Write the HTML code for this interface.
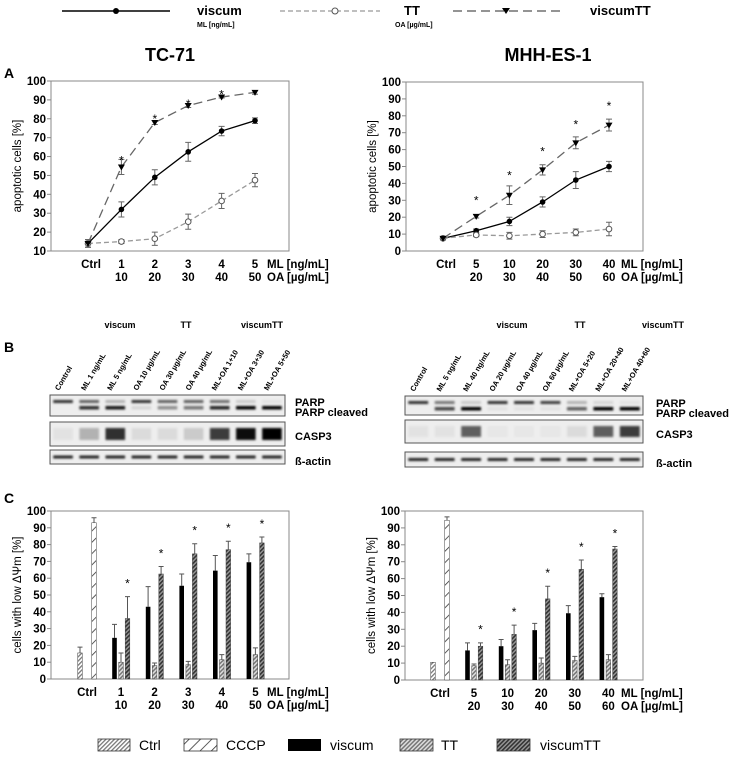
<!DOCTYPE html>
<html><head><meta charset="utf-8"><style>
body{margin:0;background:#fff;width:733px;height:759px;overflow:hidden}
svg text{font-family:"Liberation Sans",sans-serif}
</style></head><body>
<svg id="fig" width="733" height="759" viewBox="0 0 733 759" xmlns="http://www.w3.org/2000/svg">
<defs>
<pattern id="pCtrl" width="3" height="3" patternUnits="userSpaceOnUse" patternTransform="rotate(45)"><rect width="3" height="3" fill="#fff"/><rect width="1.3" height="3" fill="#777"/></pattern>
<pattern id="pCCCP" width="8" height="8" patternUnits="userSpaceOnUse" patternTransform="rotate(45)"><rect width="8" height="8" fill="#fff"/><rect width="0.8" height="8" fill="#333"/></pattern>
<pattern id="pTT" width="3" height="3" patternUnits="userSpaceOnUse" patternTransform="rotate(45)"><rect width="3" height="3" fill="#ddd"/><rect width="1.5" height="3" fill="#777"/></pattern>
<pattern id="pVTT" width="3" height="3" patternUnits="userSpaceOnUse" patternTransform="rotate(45)"><rect width="3" height="3" fill="#999"/><rect width="1.6" height="3" fill="#333"/></pattern>
<filter id="blur" x="-20%" y="-50%" width="140%" height="200%"><feGaussianBlur stdDeviation="1.1"/></filter>
</defs>
<g>
<line x1="62" y1="11" x2="170" y2="11" stroke="#000" stroke-width="1.5"/><circle cx="116" cy="11" r="3" fill="#000"/>
<text x="197" y="15" font-size="13" font-weight="bold">viscum</text>
<text x="197" y="27" font-size="7" font-weight="bold">ML [ng/mL]</text>
<line x1="280" y1="11" x2="380" y2="11" stroke="#999" stroke-width="1.2" stroke-dasharray="5,3"/><circle cx="335" cy="11" r="3" fill="#fff" stroke="#555"/>
<text x="404" y="15" font-size="13" font-weight="bold">TT</text>
<text x="395" y="27" font-size="7" font-weight="bold">OA [µg/mL]</text>
<line x1="453" y1="11" x2="560" y2="11" stroke="#555" stroke-width="1.2" stroke-dasharray="9,5"/><path d="M502,8 L510,8 L506,14Z" fill="#000"/>
<text x="590" y="15" font-size="13" font-weight="bold">viscumTT</text>
</g>
<text x="170" y="61" font-size="18" font-weight="bold" text-anchor="middle">TC-71</text>
<text x="548" y="61" font-size="18" font-weight="bold" text-anchor="middle">MHH-ES-1</text>
<text x="4" y="78" font-size="14" font-weight="bold">A</text>
<text x="4" y="352" font-size="14" font-weight="bold">B</text>
<text x="4" y="503" font-size="14" font-weight="bold">C</text>
<g id="layer"></g>
<g font-size="14">
<rect x="98" y="739" width="32" height="12" fill="url(#pCtrl)" stroke="#333" stroke-width="0.8"/><text x="139" y="750">Ctrl</text>
<rect x="184" y="739" width="33" height="12" fill="url(#pCCCP)" stroke="#333" stroke-width="0.8"/><text x="226" y="750">CCCP</text>
<rect x="288" y="739" width="33" height="12" fill="#000"/><text x="330" y="750">viscum</text>
<rect x="400" y="739" width="33" height="12" fill="url(#pTT)" stroke="#333" stroke-width="0.8"/><text x="441" y="750">TT</text>
<rect x="497" y="739" width="33" height="12" fill="url(#pVTT)" stroke="#333" stroke-width="0.8"/><text x="540" y="750">viscumTT</text>
</g>
</svg>
<script>
// Panel A data (apoptotic cells %)
const aLeftViscum=[14,32,49,62.5,73.5,79];
const aLeftViscumErr=[2,4,4,5,2.5,1.5];
const aLeftTT=[14,15,16.5,25.5,36.5,47.5];
const aLeftTTErr=[2,1,3.5,4,4,3.5];
const aLeftVTT=[14,54.5,78,87,91.5,94];
const aLeftVTTErr=[2,4,1,1,0.5,1];
const aLeftStars=[null,59,81,89,94,null];
const aRightViscum=[7.5,12,17.5,29,42,50];
const aRightViscumErr=[1,1,2.5,3,5,3];
const aRightTT=[7.5,9.5,9,10,11,13];
const aRightTTErr=[1,1,2,2,2,4];
const aRightVTT=[7.5,20.5,33,48,64,74.5];
const aRightVTTErr=[1,1,5.5,3,3.5,3.5];
const aRightStars=[null,31,46,60,76,87];
const leftCats1=["Ctrl","1","2","3","4","5"];
const leftCats2=["","10","20","30","40","50"];
const rightCats1=["Ctrl","5","10","20","30","40"];
const rightCats2=["","20","30","40","50","60"];
const aLeftTicks=[10,20,30,40,50,60,70,80,90,100];
const aRightTicks=[0,10,20,30,40,50,60,70,80,90,100];
const cTicks=[0,10,20,30,40,50,60,70,80,90,100];
// Panel C data (cells with low ΔΨm %)
const cLeftCtrl=[15.5]; const cLeftCtrlErr=[3.5];
const cLeftCCCP=[93]; const cLeftCCCPErr=[3];
const cLeftViscum=[24.5,43,55.5,64.5,69.5];
const cLeftViscumErr=[8,12,7,9,5];
const cLeftTT=[10,8,8.5,11.5,14.5];
const cLeftTTErr=[5.5,1.5,2,3,4];
const cLeftVTT=[36,62.5,74.5,77,81];
const cLeftVTTErr=[13,4.5,6,5,3.5];
const cRightCtrl=[10.5]; const cRightCtrlErr=[0];
const cRightCCCP=[94.5]; const cRightCCCPErr=[2];
const cRightViscum=[17.5,20,29.5,39.5,49];
const cRightViscumErr=[4.5,4,4,4.5,2];
const cRightTT=[8.5,9,10,11.5,12];
const cRightTTErr=[1,3,3,2.5,3];
const cRightVTT=[20,27,48,65.5,77.5];
const cRightVTTErr=[2,5.5,7.5,5.5,1.5];

const NS="http://www.w3.org/2000/svg";
const layer=document.getElementById('layer');
function mk(tag,attrs,parent,txt){const e=document.createElementNS(NS,tag);for(const k in attrs)e.setAttribute(k,attrs[k]);if(txt!==undefined)e.textContent=txt;(parent||layer).appendChild(e);return e;}

function axes(g,fr,ymin,ymax,ticks,ytitle,cats1,cats2,xFn,rowY){
  const yS=v=>fr.b-(v-ymin)/(ymax-ymin)*(fr.b-fr.t);
  const box=mk('rect',{x:fr.l,y:fr.t,width:fr.r-fr.l,height:fr.b-fr.t,fill:'none',stroke:'#888','stroke-width':1},g);
  
  
  ticks.forEach(t=>{
    mk('line',{x1:fr.l-4,x2:fr.l,y1:yS(t),y2:yS(t),stroke:'#888'},g);
    const tx=mk('text',{x:fr.l-5,y:yS(t)+4,'font-size':11.5,'font-weight':'bold','text-anchor':'end'},g,t);
    
    
  });
  const yt=mk('text',{x:0,y:0,'font-size':11.5,'text-anchor':'middle',transform:`translate(${fr.l-30},${(fr.t+fr.b)/2}) rotate(-90)`},g,ytitle);
  
  
  cats1.forEach((c,i)=>{
    const x=xFn(i);
    const t1=mk('text',{x:x+(i==0?3:0),y:rowY,'font-size':11.5,'font-weight':'bold','text-anchor':'middle'},g,c);
    
    
    if(cats2[i]){const t2=mk('text',{x:x,y:rowY+13,'font-size':11.5,'font-weight':'bold','text-anchor':'middle'},g,cats2[i]);
    
    }
  });
  const u1=mk('text',{x:fr.r-22,y:rowY,'font-size':11.5,'font-weight':'bold'},g,'ML [ng/mL]');
  
  
  const u2=mk('text',{x:fr.r-22,y:rowY+13,'font-size':11.5,'font-weight':'bold'},g,'OA [µg/mL]');
  
  
  return yS;
}

function lineChart(name,fr,ymin,ticks,cats1,cats2,series,stars){
  const g=mk('g',{});
  
  
  const x0=fr.l+37, step=(fr.r-fr.l-37-34)/5;
  const xS=i=>x0+i*step;
  const yS=axes(g,fr,ymin,100,ticks,'apoptotic cells [%]',cats1,cats2,xS,fr.b+17);
  series.forEach(s=>{
    const sg=mk('g',{},g);
    
    
    mk('polyline',{points:s.v.map((v,i)=>xS(i)+','+yS(v)).join(' '),fill:'none',stroke:s.col,'stroke-width':1.3,'stroke-dasharray':s.dash},sg);
    s.v.forEach((v,i)=>{
      const x=xS(i),e=s.e[i];
      mk('path',{d:`M${x},${yS(v-e)}V${yS(v+e)}M${x-3},${yS(v-e)}H${x+3}M${x-3},${yS(v+e)}H${x+3}`,stroke:'#666','stroke-width':1,fill:'none'},sg);
      let m;
      if(s.mk=='dot')m=mk('circle',{cx:x,cy:yS(v),r:2.8,fill:'#000'},sg);
      else if(s.mk=='open')m=mk('circle',{cx:x,cy:yS(v),r:2.8,fill:'#fff',stroke:'#555'},sg);
      else m=mk('path',{d:`M${x-3.5},${yS(v)-2.5}H${x+3.5}L${x},${yS(v)+3.5}Z`,fill:'#000'},sg);
      
      
    });
  });
  stars.forEach((s,i)=>{if(s!==null){const t=mk('text',{x:xS(i),y:yS(s)+6,'font-size':12,'text-anchor':'middle'},g,'*');
    
    }});
}

function barChart(name,fr,cats1,cats2,d,ctrlX,cccpX,x0,step){
  const g=mk('g',{});
  
  
  const xS=i=>i==0?(ctrlX+cccpX)/2-3:x0+(i-1)*step;
  const yS=axes(g,fr,0,100,cTicks,'cells with low ΔΨm [%]',cats1,cats2,xS,fr.b+17);
  const w=4.6;
  function bar(x,v,e,fill,nm){
    if(e>0)mk('path',{d:`M${x},${yS(v)}V${yS(v+e)}M${x-2.5},${yS(v+e)}H${x+2.5}`,stroke:'#555',fill:'none'},g);
    const r=mk('rect',{x:x-w/2,y:yS(v),width:w,height:yS(0)-yS(v),fill:fill,stroke:fill=='#000'?'none':'#444','stroke-width':0.5},g);
    
    
  }
  bar(ctrlX,d.ctrl[0],d.ctrlE[0],'url(#pCtrl)','bar-ctrl');
  bar(cccpX,d.cccp[0],d.cccpE[0],'url(#pCCCP)','bar-cccp');
  d.vis.forEach((v,i)=>{
    const c=x0+i*step;
    bar(c-6.5,v,d.visE[i],'#000','bar-viscum');
    bar(c,d.tt[i],d.ttE[i],'url(#pTT)','bar-tt');
    bar(c+6.5,d.vtt[i],d.vttE[i],'url(#pVTT)','bar-viscumtt');
    const t=mk('text',{x:c+6.5,y:yS(d.vtt[i]+d.vttE[i]+9)+6,'font-size':12,'text-anchor':'middle'},g,'*');
    
    
  });
}

lineChart('chart-a-tc71',{l:51,r:289,t:81,b:251},10,aLeftTicks,leftCats1,leftCats2,[
 {name:'series-viscum',v:aLeftViscum,e:aLeftViscumErr,col:'#000',dash:'',mk:'dot'},
 {name:'series-tt',v:aLeftTT,e:aLeftTTErr,col:'#999',dash:'5,3',mk:'open'},
 {name:'series-viscumtt',v:aLeftVTT,e:aLeftVTTErr,col:'#666',dash:'9,5',mk:'tri'}],aLeftStars);
lineChart('chart-a-mhh',{l:406,r:643,t:82,b:251},0,aRightTicks,rightCats1,rightCats2,[
 {name:'series-viscum',v:aRightViscum,e:aRightViscumErr,col:'#000',dash:'',mk:'dot'},
 {name:'series-tt',v:aRightTT,e:aRightTTErr,col:'#999',dash:'5,3',mk:'open'},
 {name:'series-viscumtt',v:aRightVTT,e:aRightVTTErr,col:'#666',dash:'9,5',mk:'tri'}],aRightStars);
barChart('chart-c-tc71',{l:51,r:289,t:511,b:679},leftCats1,leftCats2,
 {ctrl:cLeftCtrl,ctrlE:cLeftCtrlErr,cccp:cLeftCCCP,cccpE:cLeftCCCPErr,vis:cLeftViscum,visE:cLeftViscumErr,tt:cLeftTT,ttE:cLeftTTErr,vtt:cLeftVTT,vttE:cLeftVTTErr},80,94,121,33.6);
barChart('chart-c-mhh',{l:405,r:643,t:511,b:680},rightCats1,rightCats2,
 {ctrl:cRightCtrl,ctrlE:cRightCtrlErr,cccp:cRightCCCP,cccpE:cRightCCCPErr,vis:cRightViscum,visE:cRightViscumErr,tt:cRightTT,ttE:cRightTTErr,vtt:cRightVTT,vttE:cRightVTTErr},433,447,474,33.6);

// Panel B western blots
const leftLanes=["Control","ML 1 ng/mL","ML 5 ng/mL","OA 10 µg/mL","OA 30 µg/mL","OA 40 µg/mL","ML+OA 1+10","ML+OA 3+30","ML+OA 5+50"];
const rightLanes=["Control","ML 5 ng/mL","ML 40 ng/mL","OA 20 µg/mL","OA 40 µg/mL","OA 60 µg/mL","ML+OA 5+20","ML+OA 20+40","ML+OA 40+60"];
const leftParp=[0.8,0.6,0.25,0.8,0.6,0.6,0.55,0.15,0.05];
const leftCleaved=[0,0.8,0.9,0.1,0.4,0.5,0.85,1,1];
const leftCasp=[0.05,0.25,0.8,0.08,0.08,0.15,0.75,0.95,1];
const rightParp=[0.8,0.5,0.15,0.8,0.8,0.75,0.25,0.1,0.05];
const rightCleaved=[0,0.7,1,0.05,0.05,0.05,0.6,1,1];
const rightCasp=[0.05,0.05,0.6,0.03,0.03,0.03,0.08,0.6,0.75];

function blot(name,x0,x1,lx,boxes,lanes,parp,cleaved,casp,heads){
  const g=mk('g',{});
  
  
  const n=lanes.length, lw=(x1-x0)/n;
  heads.forEach(h=>{const t=mk('text',{x:h[1],y:328,'font-size':9,'font-weight':'bold','text-anchor':'middle'},g,h[0]);
    
    });
  lanes.forEach((l,i)=>{const cx=x0+lw*(i+0.5);
    const t=mk('text',{x:0,y:0,'font-size':7.5,'font-weight':'bold',transform:`translate(${cx-4},${boxes[0][0]-4}) rotate(-60)`},g,l);
    
    });
  const labels=[["PARP",boxes[0][0]+7],["PARP cleaved",boxes[0][0]+17],["CASP3",boxes[1][0]+14],["ß-actin",boxes[2][0]+11]];
  boxes.forEach((b,k)=>{
    const r=mk('rect',{x:x0,y:b[0],width:x1-x0,height:b[1]-b[0],fill:'#eee',stroke:'#555','stroke-width':1},g);
    
    
  });
  const bg=mk('g',{filter:'url(#blur)'},g);
  lanes.forEach((l,i)=>{const cx=x0+lw*(i+0.5),w=lw*0.75;
    const b0=boxes[0],b1=boxes[1],b2=boxes[2];
    mk('rect',{x:cx-w/2,y:b0[0]+5,width:w,height:3,fill:'#000',opacity:parp[i]},bg);
    mk('rect',{x:cx-w/2,y:b0[0]+11,width:w,height:3.5,fill:'#000',opacity:cleaved[i]},bg);
    mk('rect',{x:cx-w/2,y:b1[0]+6,width:w,height:(b1[1]-b1[0])-12,fill:'#000',opacity:casp[i]},bg);
    mk('rect',{x:cx-w/2,y:(b2[0]+b2[1])/2-1.5,width:w,height:3,fill:'#000',opacity:0.85},bg);
  });
  labels.forEach(lb=>{const t=mk('text',{x:lx,y:lb[1]+4,'font-size':11,'font-weight':'bold'},g,lb[0]);
    
    });
}
blot('blot-tc71',50,285,295,[[395,416],[422,446],[450,464]],leftLanes,leftParp,leftCleaved,leftCasp,[["viscum",120],["TT",186],["viscumTT",262]]);
blot('blot-mhh',405,643,656,[[396,415],[420,443],[452,467]],rightLanes,rightParp,rightCleaved,rightCasp,[["viscum",512],["TT",580],["viscumTT",663]]);
</script>
</body></html>
